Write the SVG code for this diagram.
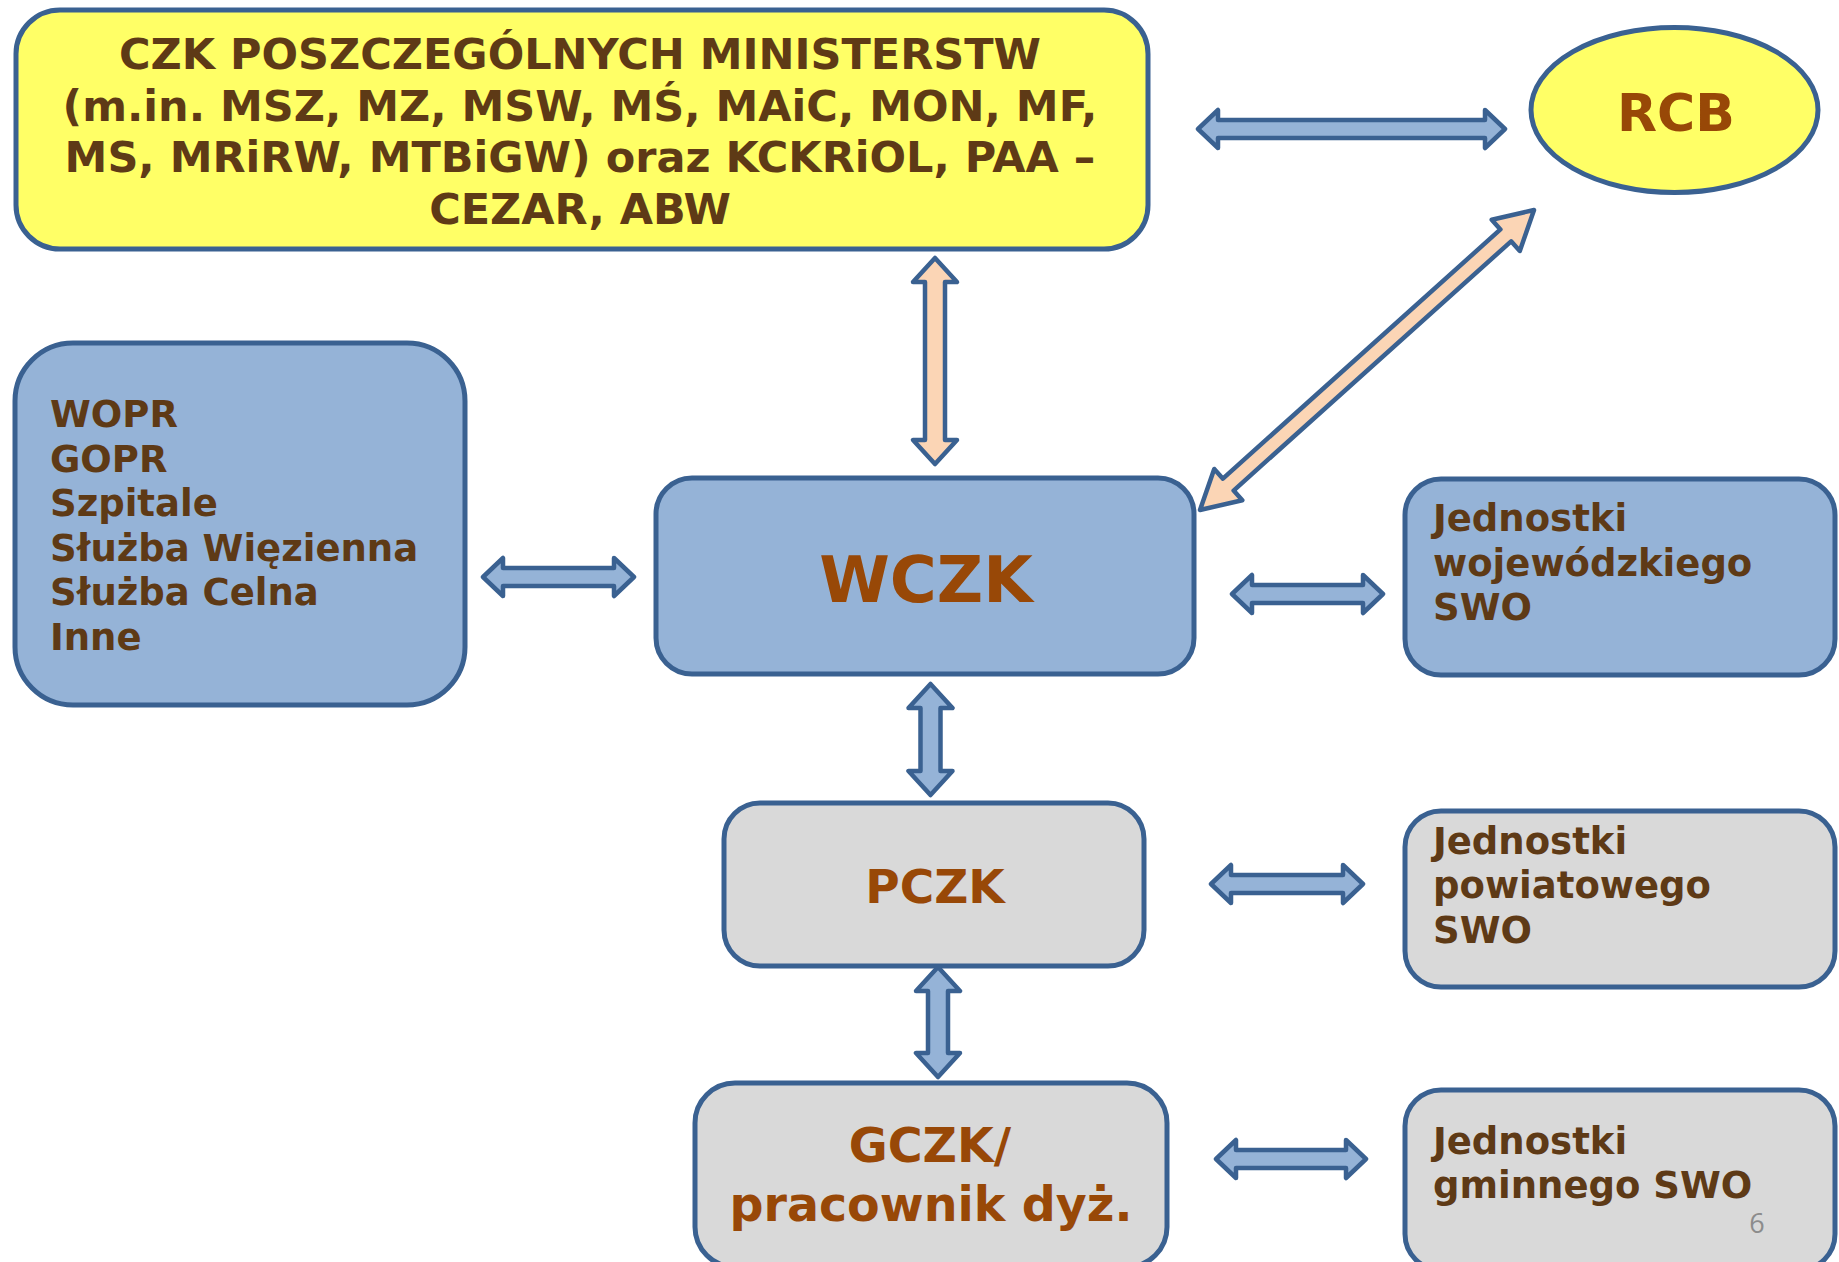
<svg xmlns="http://www.w3.org/2000/svg" width="1839" height="1262" viewBox="0 0 1839 1262">
<style>
.box{stroke:#3A6191;stroke-width:5}
.blue{fill:#95B3D7}
.gray{fill:#D9D9D9}
.yel{fill:#FFFF66}
.arr{stroke:#3A6191;stroke-width:4.5;stroke-linejoin:round}
.ab{fill:#95B3D7}
.ap{fill:#FBD5B5}
text{font-family:"DejaVu Sans",Verdana,sans-serif;font-weight:bold}
.t{fill:#5E3A16;font-size:37px}
.h{fill:#984807}
.y{fill:#5E3A16;font-size:43px;text-anchor:middle}
</style>
<rect width="1839" height="1262" fill="#FFFFFF"/>
<g id="connectors">
<polygon class="arr ab" points="1198,129 1218,110 1218,120 1485,120 1485,110 1505,129 1485,148 1485,138 1218,138 1218,148"/>
<polygon class="arr ap" transform="translate(1200,510) rotate(-41.93)" points="0,0 38,-21 38,-8 411,-8 411,-21 449,0 411,21 411,8 38,8 38,21"/>
<polygon class="arr ap" points="935,258 957,282 945,282 945,440 957,440 935,464 913,440 925,440 925,282 913,282"/>
<polygon class="arr ab" points="483,577 503,558 503,568 614,568 614,558 634,577 614,596 614,586 503,586 503,596"/>
<polygon class="arr ab" points="1232,594 1252,575 1252,585 1363,585 1363,575 1383,594 1363,613 1363,603 1252,603 1252,613"/>
<polygon class="arr ab" points="930.5,684 952.5,708 940.5,708 940.5,771 952.5,771 930.5,795 908.5,771 920.5,771 920.5,708 908.5,708"/>
<polygon class="arr ab" points="1211,884 1231,865 1231,875 1343,875 1343,865 1363,884 1343,903 1343,893 1231,893 1231,903"/>
<polygon class="arr ab" points="938,967 960,991 948,991 948,1053 960,1053 938,1077 916,1053 928,1053 928,991 916,991"/>
<polygon class="arr ab" points="1216,1159 1236,1140 1236,1150 1346,1150 1346,1140 1366,1159 1346,1178 1346,1168 1236,1168 1236,1178"/>
</g>
<g id="czk">
<rect class="box yel" x="16" y="10" width="1132" height="239" rx="44"/>
<text class="y" x="580" y="69">CZK POSZCZEGÓLNYCH MINISTERSTW</text>
<text class="y" x="580" y="120.5">(m.in. MSZ, MZ, MSW, MŚ, MAiC, MON, MF,</text>
<text class="y" x="580" y="172">MS, MRiRW, MTBiGW) oraz KCKRiOL, PAA –</text>
<text class="y" x="580" y="223.5">CEZAR, ABW</text>
</g>
<g id="rcb">
<ellipse class="box yel" cx="1674.5" cy="110" rx="143.5" ry="82.5"/>
<text class="h" x="1676" y="131" font-size="52" text-anchor="middle">RCB</text>
</g>
<g id="sluzby">
<rect class="box blue" x="15" y="343" width="450" height="362" rx="58"/>
<text class="t">
<tspan x="50" y="427">WOPR</tspan>
<tspan x="50" y="471.6">GOPR</tspan>
<tspan x="50" y="516.2">Szpitale</tspan>
<tspan x="50" y="560.8">Służba Więzienna</tspan>
<tspan x="50" y="605.4">Służba Celna</tspan>
<tspan x="50" y="650">Inne</tspan>
</text>
</g>
<g id="wczk">
<rect class="box blue" x="656" y="478" width="538" height="196" rx="36"/>
<text class="h" x="926" y="602" font-size="64" text-anchor="middle">WCZK</text>
</g>
<g id="swo-woj">
<rect class="box blue" x="1405" y="479" width="430" height="196" rx="36"/>
<text class="t"><tspan x="1433" y="531">Jednostki</tspan><tspan x="1433" y="575.5">wojewódzkiego</tspan><tspan x="1433" y="620">SWO</tspan></text>
</g>
<g id="pczk">
<rect class="box gray" x="724" y="803" width="420" height="163" rx="36"/>
<text class="h" x="935" y="903" font-size="47" text-anchor="middle">PCZK</text>
</g>
<g id="swo-pow">
<rect class="box gray" x="1405" y="811" width="430" height="176" rx="36"/>
<text class="t"><tspan x="1433" y="853.5">Jednostki</tspan><tspan x="1433" y="898">powiatowego</tspan><tspan x="1433" y="942.5">SWO</tspan></text>
</g>
<g id="gczk">
<rect class="box gray" x="695" y="1083" width="472" height="184" rx="40"/>
<text class="h" font-size="47.5" text-anchor="middle"><tspan x="930" y="1162">GCZK/</tspan><tspan x="931" y="1221">pracownik dyż.</tspan></text>
</g>
<g id="swo-gmin">
<rect class="box gray" x="1405" y="1090" width="430" height="180" rx="36"/>
<text class="t"><tspan x="1433" y="1153.5">Jednostki</tspan><tspan x="1433" y="1198">gminnego SWO</tspan></text>
</g>
<text x="1757" y="1233" font-size="27" fill="#8C8C8C" text-anchor="middle" style="font-family:'Open Sans','Liberation Sans',sans-serif;font-weight:normal">6</text>
</svg>
